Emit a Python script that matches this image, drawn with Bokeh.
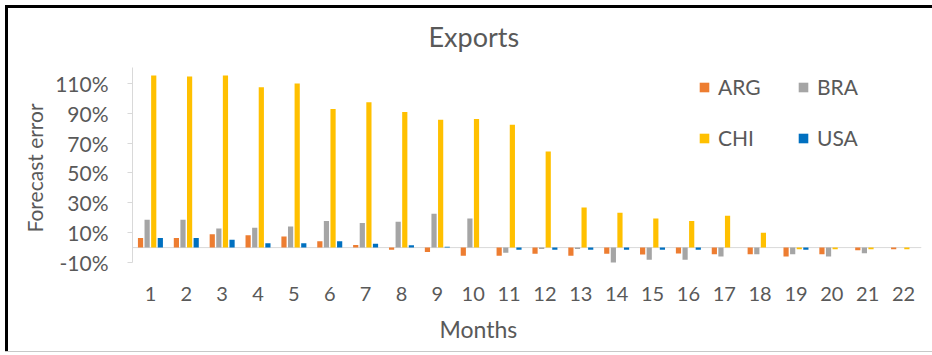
from bokeh.plotting import figure
from bokeh.models import (Range1d, Span, Legend, LegendItem, Title,
                          FixedTicker, PrintfTickFormatter)
from bokeh.transform import dodge
from bokeh.embed import file_html
from bokeh.resources import INLINE

# Forecast error of exports, in percent, by forecast horizon (months)
months = list(range(1, 23))
arg = [6.5, 6.5, 9.0, 8.3, 7.4, 4.3, 1.8, -1.5, -3.0, -5.5, -5.5,
       -4.2, -5.5, -4.2, -4.7, -4.0, -4.5, -4.5, -6.0, -4.5, -1.8, -1.2]
bra = [18.6, 18.6, 12.8, 13.3, 14.1, 17.8, 16.4, 17.3, 22.7, 19.5, -3.4,
       -1.0, -1.0, -10.3, -8.1, -8.1, -6.0, -4.5, -4.5, -6.0, -3.8, 0.0]
chi = [115.3, 114.6, 115.3, 107.5, 110.0, 92.9, 97.4, 90.9, 85.7, 86.1, 82.4,
       64.4, 26.9, 23.3, 19.5, 17.8, 21.3, 9.9, -1.2, -1.2, -1.2, -1.2]
usa = [6.5, 6.5, 5.2, 2.9, 2.9, 4.3, 2.5, 1.5, 0.5, 0.0, -1.5,
       -1.5, -1.5, -1.5, -1.5, -1.5, 0.0, 0.0, -1.5, 0.0, 0.0, 0.0]
series = ["ARG", "BRA", "CHI", "USA"]
colors = ["#ED7D31", "#A5A5A5", "#FFC000", "#0070C0"]
y_ticks = [-10, 10, 30, 50, 70, 90, 110]

FONT = "Lato"
TEXT = "#595959"


def heading(text, size, **kw):
    return Title(text=text, text_font=FONT, text_font_size=size,
                 text_font_style="normal", text_color=TEXT, align="left", **kw)


p = figure(width=932, height=352, x_range=Range1d(0.5, len(months) + 0.5),
           y_range=Range1d(-10, 120.7), output_backend="svg",
           toolbar_location=None, min_border_left=132, min_border_right=11,
           min_border_top=67, min_border_bottom=90,
           title=heading("Exports", "27px", offset=296, standoff=29))
# chart area frame, painted behind a transparent canvas:
# heavy top/left edge, light bottom edge
p.border_fill_color = None
p.background_fill_color = None
p.styles = {
    "background-color": "#ffffff",
    "background-image": ("linear-gradient(#000,#000), linear-gradient(#000,#000), "
                         "linear-gradient(#c8c8c8,#c8c8c8)"),
    "background-size": "927px 3px, 3px 346px, 927px 1px",
    "background-position": "5px 5px, 5px 5px, 5px 351px",
    "background-repeat": "no-repeat",
}
p.outline_line_color = None
p.xgrid.grid_line_color = None
p.ygrid.grid_line_color = None

data = dict(month=months, ARG=arg, BRA=bra, CHI=chi, USA=usa)
offsets = [-0.276, -0.092, 0.092, 0.276]
renderers = []
for name, col, off in zip(series, colors, offsets):
    r = p.vbar(x=dodge("month", off), top=name, bottom=0,
               width=0.145, source=data, fill_color=col, line_color=None)
    renderers.append(r)

p.add_layout(Span(location=0, dimension="width", line_color="#D9D9D9",
                  line_width=1, level="underlay"))

# value axis
ya = p.yaxis[0]
ya.ticker = FixedTicker(ticks=y_ticks)
ya.formatter = PrintfTickFormatter(format="%d%%")
ya.major_label_text_font = FONT
ya.major_label_text_font_size = "21px"
ya.major_label_text_color = TEXT
ya.major_label_standoff = 19
ya.axis_line_color = "#D9D9D9"
ya.major_tick_line_color = "#D9D9D9"
ya.major_tick_out = 5
ya.major_tick_in = 0
ya.minor_tick_line_color = None

# month axis
xa = p.xaxis[0]
xa.ticker = FixedTicker(ticks=months)
xa.major_label_text_font = FONT
xa.major_label_text_font_size = "20px"
xa.major_label_text_color = TEXT
xa.major_label_standoff = 18
xa.axis_line_color = None
xa.major_tick_line_color = None
xa.minor_tick_line_color = None

# axis titles
p.add_layout(heading("Forecast error", "21px", offset=30, standoff=11), "left")
p.add_layout(heading("Months", "23px", offset=307, standoff=18), "below")

legend = Legend(items=[LegendItem(label=n, renderers=[r]) for n, r in zip(series, renderers)],
                orientation="horizontal", ncols=2, location=(566, 112),
                glyph_width=12, glyph_height=12, label_standoff=8,
                label_width=53, spacing=26, padding=0, margin=0,
                border_line_color=None, background_fill_alpha=0,
                label_text_font=FONT, label_text_font_size="21px",
                label_text_color=TEXT)
p.add_layout(legend, "center")

open("out.html", "w").write(file_html(p, INLINE))
